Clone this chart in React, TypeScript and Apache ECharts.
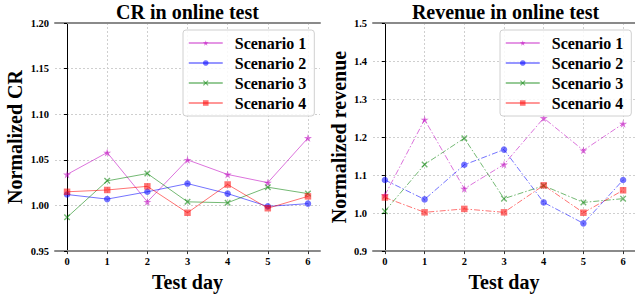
import React, { useEffect, useRef } from "react";
import * as echarts from "echarts";

const days = [0, 1, 2, 3, 4, 5, 6];
const scenarioNames = ["Scenario 1", "Scenario 2", "Scenario 3", "Scenario 4"];

const crS1 = [1.034, 1.058, 1.004, 1.05, 1.034, 1.025, 1.074];
const crS2 = [1.012, 1.007, 1.015, 1.024, 1.013, 0.999, 1.002];
const crS3 = [0.987, 1.027, 1.035, 1.004, 1.003, 1.02, 1.013];
const crS4 = [1.015, 1.017, 1.021, 0.992, 1.023, 0.997, 1.01];

const revS1 = [1.047, 1.246, 1.064, 1.128, 1.25, 1.165, 1.235];
const revS2 = [1.087, 1.036, 1.127, 1.167, 1.028, 0.973, 1.087];
const revS3 = [1.005, 1.128, 1.197, 1.038, 1.072, 1.028, 1.038];
const revS4 = [1.041, 1.002, 1.011, 1.002, 1.073, 1.001, 1.06];

const crTicks = [0.95, 1.0, 1.05, 1.1, 1.15, 1.2];
const revTicks = [0.9, 1.0, 1.1, 1.2, 1.3, 1.4, 1.5];

const colors = ["#bf00bf", "#0000ff", "#008000", "#ff0000"];
const STAR = "path://M50,0 L61,35 L98,35 L68,57 L79,91 L50,70 L21,91 L32,57 L2,35 L39,35 Z";
const XMARK = "path://M0,1.5 L1.5,0 L10,8.5 L8.5,10 Z M8.5,0 L10,1.5 L1.5,10 L0,8.5 Z";
const symbols = [STAR, "circle", XMARK, "rect"];
const symbolSizes = [8, 6.5, 6.5, 6.5];

const FONT = "Liberation Serif";

function App() {
  const ref = useRef<HTMLDivElement>(null);
  useEffect(() => {
    if (!ref.current) return;
    const chart = echarts.init(ref.current, undefined, { renderer: "svg" });
    const grids = [
      { left: 55, top: 23, width: 265, height: 235 },
      { left: 373, top: 23, width: 265, height: 235 },
    ];
    const xAxisBase = (gi: number, pos: string, main: boolean) => ({
      type: "value",
      gridIndex: gi,
      position: pos,
      min: -0.3,
      max: 6.3,
      name: main ? "Test day" : "",
      nameLocation: "middle",
      nameGap: 17,
      nameTextStyle: { fontFamily: FONT, fontSize: 20, fontWeight: "bold", color: "#000" },
      axisLine: { show: true, lineStyle: { color: "#8a8a8a", width: 2 } },
      axisTick: { show: main, length: 3, customValues: days, lineStyle: { color: "#333" } },
      axisLabel: {
        show: main,
        customValues: days,
        margin: 5,
        fontFamily: FONT,
        fontSize: 10.5,
        fontWeight: "bold",
        color: "#000",
      },
      splitLine: {
        show: main,
        lineStyle: { color: "#cfcfcf", type: [2, 2], width: 1 },
      },
    });
    const yAxisBase = (gi: number, pos: string, main: boolean, ticks: number[], interval: number, dec: number, name: string, gap: number) => ({
      type: "value",
      gridIndex: gi,
      position: pos,
      min: ticks[0],
      max: ticks[ticks.length - 1],
      interval,
      name: main ? name : "",
      nameLocation: "middle",
      nameGap: gap,
      nameTextStyle: { fontFamily: FONT, fontSize: 20, fontWeight: "bold", color: "#000" },
      axisLine: { show: true, lineStyle: { color: "#000", width: 1 } },
      axisTick: { show: main, length: 3, lineStyle: { color: "#000" } },
      axisLabel: {
        show: main,
        margin: 6,
        fontFamily: FONT,
        fontSize: 10.5,
        fontWeight: "bold",
        color: "#000",
        formatter: (v: number) => v.toFixed(dec),
      },
      splitLine: {
        show: main,
        lineStyle: { color: "#cfcfcf", type: [2, 2], width: 1 },
      },
    });

    const mkSeries = (gi: number, arrs: number[][], dashed: boolean) =>
      arrs.map((arr, i) => ({
        type: "line",
        name: scenarioNames[i],
        xAxisIndex: gi * 2,
        yAxisIndex: gi * 2,
        data: days.map((d, k) => [d, arr[k]]),
        symbol: symbols[i],
        symbolSize: symbolSizes[i],
        showSymbol: true,
        color: colors[i],
        itemStyle: { color: colors[i], opacity: 0.55 },
        lineStyle: {
          color: colors[i],
          width: 1,
          opacity: 0.55,
          type: dashed ? [6, 2, 1.5, 2] : "solid",
        },
        emphasis: { disabled: true },
        z: 3 + i,
      }));

    const legendBase = (left: number) => ({
      data: scenarioNames.map((n) => ({ name: n })),
      orient: "vertical",
      left,
      top: 30,
      itemWidth: 34,
      itemHeight: 7,
      itemGap: 4,
      padding: [5, 8, 5, 5],
      borderColor: "#d0d0d0",
      borderWidth: 1,
      borderRadius: 3,
      backgroundColor: "rgba(255,255,255,0.85)",
      lineStyle: { width: 1.5 },
      textStyle: {
        fontFamily: FONT,
        fontSize: 16,
        fontWeight: "bold",
        color: "#000",
        lineHeight: 16,
        padding: [0, 0, 0, 7],
      },
      selectedMode: false,
    });

    const allSeries = [
      ...mkSeries(0, [crS1, crS2, crS3, crS4], false),
      ...mkSeries(1, [revS1, revS2, revS3, revS4], true),
    ];

    chart.setOption({
      animation: false,
      backgroundColor: "#fff",
      textStyle: { fontFamily: FONT, fontWeight: "bold" },
      title: [
        {
          text: "CR in online test",
          left: 187.5,
          top: 2,
          padding: 0,
          textAlign: "center",
          textStyle: { fontFamily: FONT, fontSize: 20, fontWeight: "bold", color: "#000" },
        },
        {
          text: "Revenue in online test",
          left: 505.5,
          top: 2,
          padding: 0,
          textAlign: "center",
          textStyle: { fontFamily: FONT, fontSize: 20, fontWeight: "bold", color: "#000" },
        },
      ],
      grid: grids,
      xAxis: [
        xAxisBase(0, "bottom", true),
        xAxisBase(0, "top", false),
        xAxisBase(1, "bottom", true),
        xAxisBase(1, "top", false),
      ],
      yAxis: [
        yAxisBase(0, "left", true, crTicks, 0.05, 2, "Normalized CR", 30),
        yAxisBase(0, "right", false, crTicks, 0.05, 2, "", 0),
        yAxisBase(1, "left", true, revTicks, 0.1, 1, "Normalized revenue", 24),
        yAxisBase(1, "right", false, revTicks, 0.1, 1, "", 0),
      ],
      legend: [legendBase(183), legendBase(500)],
      series: allSeries,
    });
    return () => chart.dispose();
  }, []);
  return (
    <div
      ref={ref}
      style={{ position: "fixed", left: 0, top: 0, width: 635, height: 297 }}
    />
  );
}

export default App;
